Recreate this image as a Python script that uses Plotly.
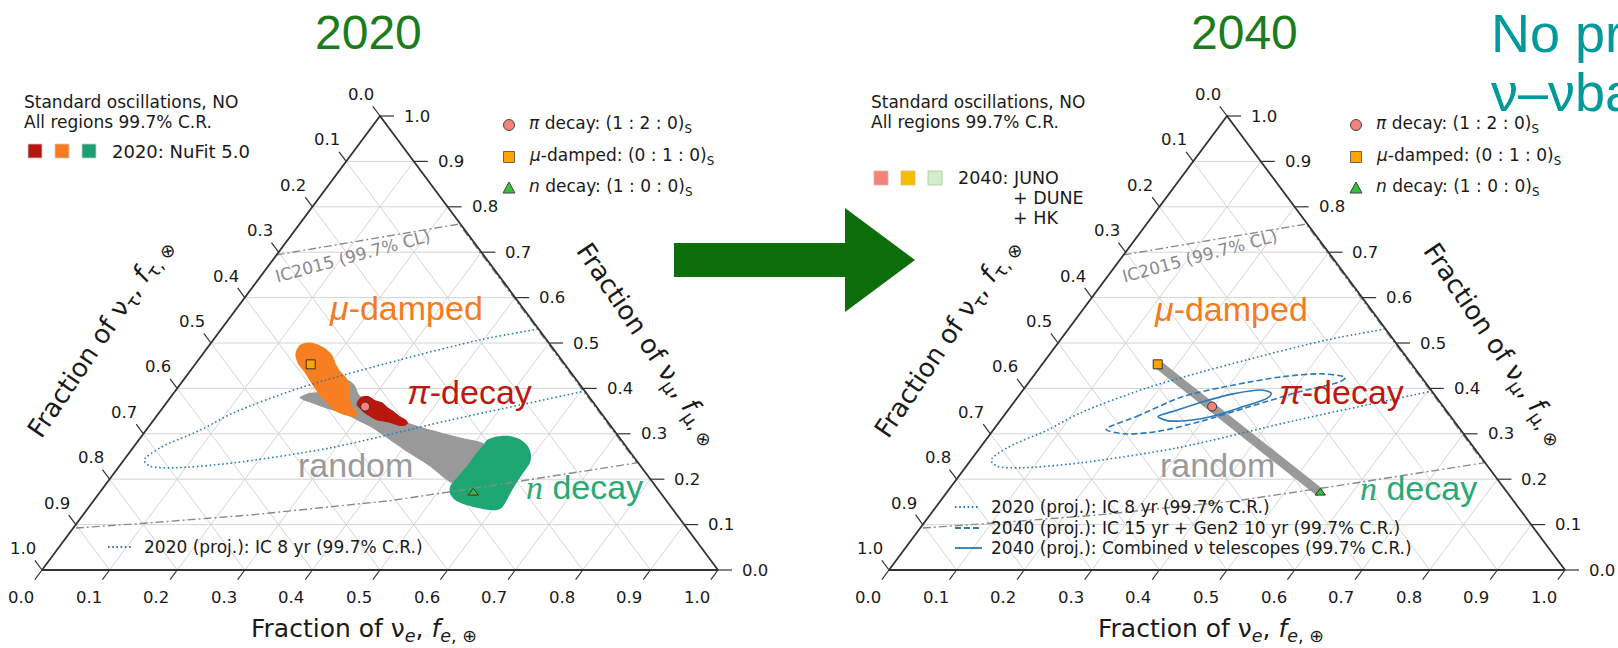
import numpy as np
import plotly.graph_objects as go

W, H = 1618, 648

# ---------------- values ----------------
tick_values = [0.0, 0.1, 0.2, 0.3, 0.4, 0.5, 0.6, 0.7, 0.8, 0.9, 1.0]
tick_labels = ["0.0", "0.1", "0.2", "0.3", "0.4", "0.5", "0.6", "0.7", "0.8", "0.9", "1.0"]
grid_values = [0.1, 0.2, 0.3, 0.4, 0.5, 0.6, 0.7, 0.8, 0.9]

# Benchmark source compositions propagated to Earth: (f_e, f_mu); f_tau = 1 - f_e - f_mu
source_names = ["pi decay", "mu-damped", "n decay"]
source_fe = [0.298, 0.171, 0.553]
source_fmu = [0.360, 0.453, 0.170]

# 2020 (NuFit 5.0) 99.7% C.R. regions
mu2020_fe = [0.135, 0.134, 0.143, 0.157, 0.175, 0.192, 0.207, 0.223, 0.240, 0.253, 0.263, 0.274,
             0.290, 0.298, 0.287, 0.268, 0.251, 0.234, 0.214, 0.197, 0.183, 0.169, 0.151, 0.140]
mu2020_fmu = [0.481, 0.496, 0.501, 0.498, 0.488, 0.474, 0.455, 0.437, 0.422, 0.404, 0.385, 0.367,
              0.349, 0.339, 0.338, 0.345, 0.356, 0.371, 0.389, 0.407, 0.422, 0.437, 0.455, 0.470]

pi2020_fe = [0.281, 0.282, 0.291, 0.306, 0.319, 0.330, 0.346, 0.361, 0.374, 0.380, 0.378, 0.368,
             0.355, 0.342, 0.330, 0.316, 0.305, 0.292, 0.284]
pi2020_fmu = [0.371, 0.382, 0.383, 0.374, 0.369, 0.360, 0.349, 0.338, 0.330, 0.323, 0.318, 0.318,
              0.323, 0.327, 0.330, 0.338, 0.345, 0.356, 0.363]

n2020_fe = [0.515, 0.526, 0.544, 0.563, 0.583, 0.597, 0.604, 0.605, 0.606, 0.609, 0.612, 0.607,
            0.586, 0.556, 0.534, 0.519, 0.512, 0.512, 0.514, 0.514, 0.515]
n2020_fmu = [0.286, 0.294, 0.295, 0.288, 0.272, 0.253, 0.235, 0.213, 0.191, 0.165, 0.139, 0.132,
             0.134, 0.143, 0.154, 0.169, 0.183, 0.202, 0.228, 0.257, 0.275]

random2020_fe = [0.191, 0.199, 0.218, 0.231, 0.242, 0.259, 0.277, 0.300, 0.342, 0.382, 0.432, 0.478,
                 0.513, 0.534, 0.539, 0.513, 0.500, 0.460, 0.415, 0.372, 0.327, 0.301, 0.273, 0.243,
                 0.217, 0.200]
random2020_fmu = [0.380, 0.389, 0.393, 0.404, 0.419, 0.407, 0.385, 0.371, 0.345, 0.323, 0.305, 0.290,
                  0.279, 0.257, 0.228, 0.191, 0.198, 0.228, 0.257, 0.286, 0.316, 0.330, 0.345, 0.356,
                  0.367, 0.374]

# 2040 (JUNO + DUNE + HK): random-source band between mu-damped and n decay
random2040_fe = [0.171, 0.553]
random2040_fmu = [0.453, 0.170]

# IceCube 2015 measurement (99.7% CL)
ic2015_fe = [0.0, 0.099, 0.236, 0.762, 0.762, 0.561, 0.440, 0.247, 0.099, 0.0]
ic2015_fmu = [0.694, 0.723, 0.762, 0.236, 0.236, 0.183, 0.153, 0.121, 0.103, 0.092]

# Projected sensitivities (99.7% C.R.)
ic8_fe = [0.469, 0.395, 0.298, 0.181, 0.110, 0.080, 0.040, 0.030, 0.045, 0.081, 0.165, 0.292,
          0.438, 0.606]
ic8_fmu = [0.531, 0.507, 0.463, 0.401, 0.346, 0.308, 0.269, 0.242, 0.229, 0.225, 0.236, 0.269,
           0.330, 0.394]

gen2_fe = [0.166, 0.197, 0.244, 0.305, 0.370, 0.426, 0.463, 0.460, 0.412, 0.354, 0.297, 0.244, 0.197]
gen2_fmu = [0.310, 0.338, 0.382, 0.407, 0.426, 0.432, 0.424, 0.415, 0.393, 0.360, 0.327, 0.305, 0.300]

comb_fe = [0.229, 0.250, 0.280, 0.315, 0.356, 0.371, 0.370, 0.344, 0.314, 0.280, 0.247]
comb_fmu = [0.338, 0.352, 0.371, 0.388, 0.396, 0.389, 0.378, 0.360, 0.341, 0.330, 0.329]

# ---------------- geometry ----------------
PANEL_X0 = {"x": 42, "x2": 889}   # pixel x of the f_e = 0 corner
PANEL_DX = {"x": 0, "x2": 847}
SIDE = 676
BASE_Y = 570
TRI_H = 454
DIAG = (0.597, 0.802)

FONT = "DejaVu Sans"
SANS = "Liberation Sans"
INK = "#1a1a1a"


def cart(fe, fmu):
    fe = np.asarray(fe, dtype=float)
    fmu = np.asarray(fmu, dtype=float)
    return fe + fmu / 2.0, fmu


def closed(a):
    a = list(a)
    return a + a[:1]


fig = go.Figure()
annotations = []
shapes = []


def note(text, x, y, size, color=INK, xanchor="center", yanchor="middle", angle=0,
         family=FONT, xref="paper", yref="paper", xshift=0, yshift=0):
    if xref == "paper":
        x = x / W
    if yref == "paper":
        y = 1 - y / H
    annotations.append(dict(text=text, x=x, y=y, xref=xref, yref=yref, showarrow=False,
                            xanchor=xanchor, yanchor=yanchor, textangle=angle,
                            xshift=xshift, yshift=yshift,
                            font=dict(family=family, size=size, color=color)))


def px(x, y):
    return x / W, 1 - y / H


def rect(x0, y0, x1, y1, fill, edge):
    a, b = px(x0, y1)
    c, d = px(x1, y0)
    shapes.append(dict(type="rect", xref="paper", yref="paper", x0=a, y0=b, x1=c, y1=d,
                       fillcolor=fill, line=dict(color=edge, width=0.8)))


def poly(points, fill, edge=None, width=0):
    p = " L ".join("%.5f,%.5f" % px(x, y) for x, y in points)
    shapes.append(dict(type="path", xref="paper", yref="paper", path="M " + p + " Z",
                       fillcolor=fill, line=dict(color=edge or fill, width=width)))


def seg(x0, y0, x1, y1, color, width, dash="solid"):
    a, b = px(x0, y0)
    c, d = px(x1, y1)
    shapes.append(dict(type="line", xref="paper", yref="paper", x0=a, y0=b, x1=c, y1=d,
                       line=dict(color=color, width=width, dash=dash)))


def add_line(fe, fmu, xa, color, width, dash="solid", close=False, shape="spline"):
    x, y = cart(fe, fmu)
    x, y = list(x), list(y)
    if close:
        x, y = closed(x), closed(y)
    fig.add_trace(go.Scatter(x=x, y=y, mode="lines", xaxis=xa, yaxis="y", hoverinfo="skip",
                             line=dict(color=color, width=width, dash=dash, shape=shape,
                                       smoothing=0.8)))


def add_region(fe, fmu, xa, color):
    x, y = cart(fe, fmu)
    fig.add_trace(go.Scatter(x=closed(x), y=closed(y), mode="lines", fill="toself",
                             fillcolor=color, xaxis=xa, yaxis="y", hoverinfo="skip",
                             line=dict(width=0, color=color, shape="spline", smoothing=0.8)))


def add_grid(xa):
    gx, gy = [], []
    for v in grid_values:
        for (e0, m0), (e1, m1) in (((v, 0.0), (v, 1 - v)),
                                   ((0.0, v), (1 - v, v)),
                                   ((1 - v, 0.0), (0.0, 1 - v))):
            x, y = cart([e0, e1], [m0, m1])
            gx += list(x) + [None]
            gy += list(y) + [None]
    fig.add_trace(go.Scatter(x=gx, y=gy, mode="lines", xaxis=xa, yaxis="y", hoverinfo="skip",
                             line=dict(color="#d4d4d4", width=1)))


def add_frame(xa):
    x, y = cart([0, 1, 0, 0], [0, 0, 1, 0])
    fig.add_trace(go.Scatter(x=list(x), y=list(y), mode="lines", xaxis=xa, yaxis="y",
                             hoverinfo="skip", line=dict(color="#333333", width=1.8)))
    tx, ty = [], []
    for v, lab in zip(tick_values, tick_labels):
        # f_e along the bottom
        x0, y0 = (float(a) for a in cart(v, 0.0))
        tx += [x0, x0 - 12 * DIAG[0] / SIDE, None]
        ty += [y0, y0 - 12 * DIAG[1] / TRI_H, None]
        note(lab, x0, y0, 16.5, xref=xa, yref="y", xshift=-21, yshift=-27)
        # f_mu along the right side
        x0, y0 = (float(a) for a in cart(1 - v, v))
        tx += [x0, x0 + 14 / SIDE, None]
        ty += [y0, y0, None]
        note(lab, x0, y0, 16.5, xref=xa, yref="y", xanchor="left", xshift=22)
        # f_tau along the left side
        x0, y0 = (float(a) for a in cart(0.0, 1 - v))
        tx += [x0, x0 - 12 * DIAG[0] / SIDE, None]
        ty += [y0, y0 + 12 * DIAG[1] / TRI_H, None]
        note(lab, x0, y0, 16.5, xref=xa, yref="y", xshift=-19, yshift=21.5)
    fig.add_trace(go.Scatter(x=tx, y=ty, mode="lines", xaxis=xa, yaxis="y", hoverinfo="skip",
                             line=dict(color="#333333", width=1.2)))


def add_sources(xa):
    for fe, fmu, sym, col in zip(source_fe, source_fmu,
                                 ["circle", "square", "triangle-up"],
                                 ["#f4847a", "#ffa500", "#33c233"]):
        x, y = cart([fe], [fmu])
        fig.add_trace(go.Scatter(x=list(x), y=list(y), mode="markers", xaxis=xa, yaxis="y",
                                 hoverinfo="skip",
                                 marker=dict(symbol=sym, size=9, color=col,
                                             line=dict(color="#333333", width=1))))


BLUE = "#2a7ab9"
DOT = "1.6px,2.6px"
DASH = "6px,3px"
DASHDOT = "8px,3px,2px,3px"

# ---------------- left panel: 2020 ----------------
add_grid("x")
add_region(random2020_fe, random2020_fmu, "x", "#999999")
add_region(mu2020_fe, mu2020_fmu, "x", "#f77f21")
add_region(pi2020_fe, pi2020_fmu, "x", "#b8170e")
add_region(n2020_fe, n2020_fmu, "x", "#1ea673")
add_line(ic8_fe, ic8_fmu, "x", BLUE, 1.6, DOT)
add_line(ic2015_fe, ic2015_fmu, "x", "#8a8a8a", 1.4, DASHDOT, shape="linear")
add_frame("x")
add_sources("x")

# ---------------- right panel: 2040 ----------------
add_grid("x2")
x_b, y_b = cart(random2040_fe, random2040_fmu)
fig.add_trace(go.Scatter(x=list(x_b), y=list(y_b), mode="lines", xaxis="x2", yaxis="y",
                         hoverinfo="skip", line=dict(color="#999999", width=9)))
add_line(ic8_fe, ic8_fmu, "x2", BLUE, 1.6, DOT)
add_line(gen2_fe, gen2_fmu, "x2", BLUE, 1.6, DASH, close=True)
add_line(comb_fe, comb_fmu, "x2", BLUE, 1.6, close=True)
add_line(ic2015_fe, ic2015_fmu, "x2", "#8a8a8a", 1.4, DASHDOT, shape="linear")
add_frame("x2")
add_sources("x2")

# ---------------- texts shared by both panels ----------------
for xa in ("x", "x2"):
    dx = PANEL_DX[xa]
    note("Standard oscillations, NO", 21.7 + dx, 102, 17, xanchor="left")
    note("All regions 99.7% C.R.", 21.7 + dx, 122, 17, xanchor="left")
    # source markers legend
    cx = 509 + dx
    shapes.append(dict(type="circle", xref="paper", yref="paper",
                       x0=(cx - 5.5) / W, x1=(cx + 5.5) / W,
                       y0=1 - (125 + 5.5) / H, y1=1 - (125 - 5.5) / H,
                       fillcolor="#f4847a", line=dict(color="#444444", width=1)))
    rect(cx - 5.5, 151.5, cx + 5.5, 162.5, "#ffa500", "#444444")
    poly([(cx - 6, 193), (cx + 6, 193), (cx, 182)], "#33c233", "#444444", 1)
    note("<i>π</i> decay: (1 : 2 : 0)<sub>S</sub>", 527 + dx, 125, 17, xanchor="left")
    note("<i>μ</i>-damped: (0 : 1 : 0)<sub>S</sub>", 527 + dx, 157, 17, xanchor="left")
    note("<i>n</i> decay: (1 : 0 : 0)<sub>S</sub>", 527 + dx, 188, 17, xanchor="left")
    # axis titles
    note("Fraction of ν<sub><i>e</i></sub>, <i>f</i><sub><i>e</i>, ⊕</sub>", 364 + dx, 630, 25)
    note("Fraction of ν<sub>τ</sub>, <i>f</i><sub>τ, ⊗</sub>", 100 + dx, 338, 26, angle=-56)
    note("Fraction of ν<sub>μ</sub>, <i>f</i><sub>μ, ⊗</sub>", 648 + dx, 344, 26, angle=56)
    # IceCube 2015 label
    note("IC2015 (99.7% CL)", 353 + dx, 256, 17, color="#8a8a8a", angle=-15)
    # bottom legend, first row
    row_y = 547 if xa == "x" else 507
    seg(108 + dx, row_y, 132 + dx, row_y, BLUE, 1.8, DOT)
    note("2020 (proj.): IC 8 yr (99.7% C.R.)", 142 + dx, row_y, 17, xanchor="left")

# region labels, left
note("<i>μ</i>-damped", 406, 308, 34, color="#f47b20", family=SANS)
note("<i>π</i>-decay", 469, 392, 34, color="#c0170f", family=SANS)
note("random", 355, 465, 34, color="#9a9a9a", family=SANS)
note('<span style="font-family:Liberation Serif"><i>n</i></span> decay', 584, 487, 34,
     color="#2aa876", family=SANS)
# region labels, right
note("<i>μ</i>-damped", 1231, 309, 34, color="#f47b20", family=SANS)
note("<i>π</i>-decay", 1341, 392, 34, color="#c0170f", family=SANS)
note("random", 1217, 465, 34, color="#9a9a9a", family=SANS)
note('<span style="font-family:Liberation Serif"><i>n</i></span> decay', 1418, 488, 34,
     color="#2aa876", family=SANS)

# left legend: NuFit 5.0 swatches
for x0, col in zip((28, 55, 82), ("#b5170f", "#f97a1f", "#1a9e72")):
    rect(x0, 144, x0 + 14, 158, col, "#cccccc")
note("2020: NuFit 5.0", 110, 151, 18, xanchor="left")

# right legend: future oscillation experiments
for x0, col, edge in zip((874, 901, 928), ("#f4847a", "#f9bd06", "#d2eecb"),
                         ("#e0b0a8", "#e0c070", "#a8c8a0")):
    rect(x0, 171, x0 + 14, 185, col, edge)
note("2040: JUNO", 956, 178, 17.5, xanchor="left")
note("+ DUNE", 1011, 198, 17.5, xanchor="left")
note("+ HK", 1011, 218, 17.5, xanchor="left")

# right bottom legend, remaining rows
seg(955, 528, 982, 528, BLUE, 1.8, DASH)
note("2040 (proj.): IC 15 yr + Gen2 10 yr (99.7% C.R.)", 989, 528, 17, xanchor="left")
seg(955, 548, 982, 548, BLUE, 1.8)
note("2040 (proj.): Combined ν telescopes (99.7% C.R.)", 989, 548, 17, xanchor="left")

# headings
note("2020", 368, 32, 48, color="#1c7c1c", family=SANS)
note("2040", 1244, 32, 48, color="#1c7c1c", family=SANS)
note("No preference", 1489, 33, 54, color="#009a9a", family=SANS, xanchor="left")
note("ν–νbar", 1489, 92, 54, color="#009a9a", family=SANS, xanchor="left")

# arrow between the panels
poly([(674, 243), (845, 243), (845, 208), (915, 260), (845, 312), (845, 277), (674, 277)],
     "#0b6e0b")

axis_common = dict(visible=False, showgrid=False, zeroline=False, fixedrange=True)
fig.update_layout(
    width=W, height=H, autosize=False,
    margin=dict(l=0, r=0, t=0, b=0),
    paper_bgcolor="white", plot_bgcolor="white",
    showlegend=False,
    xaxis=dict(domain=[0, 0.5], range=[(0 - PANEL_X0["x"]) / SIDE, (W / 2 - PANEL_X0["x"]) / SIDE],
               anchor="y", **axis_common),
    xaxis2=dict(domain=[0.5, 1], range=[(W / 2 - PANEL_X0["x2"]) / SIDE, (W - PANEL_X0["x2"]) / SIDE],
                anchor="y", **axis_common),
    yaxis=dict(domain=[0, 1], range=[(BASE_Y - H) / TRI_H, BASE_Y / TRI_H], **axis_common),
    annotations=annotations,
    shapes=shapes,
)

fig.write_html("out.html")
